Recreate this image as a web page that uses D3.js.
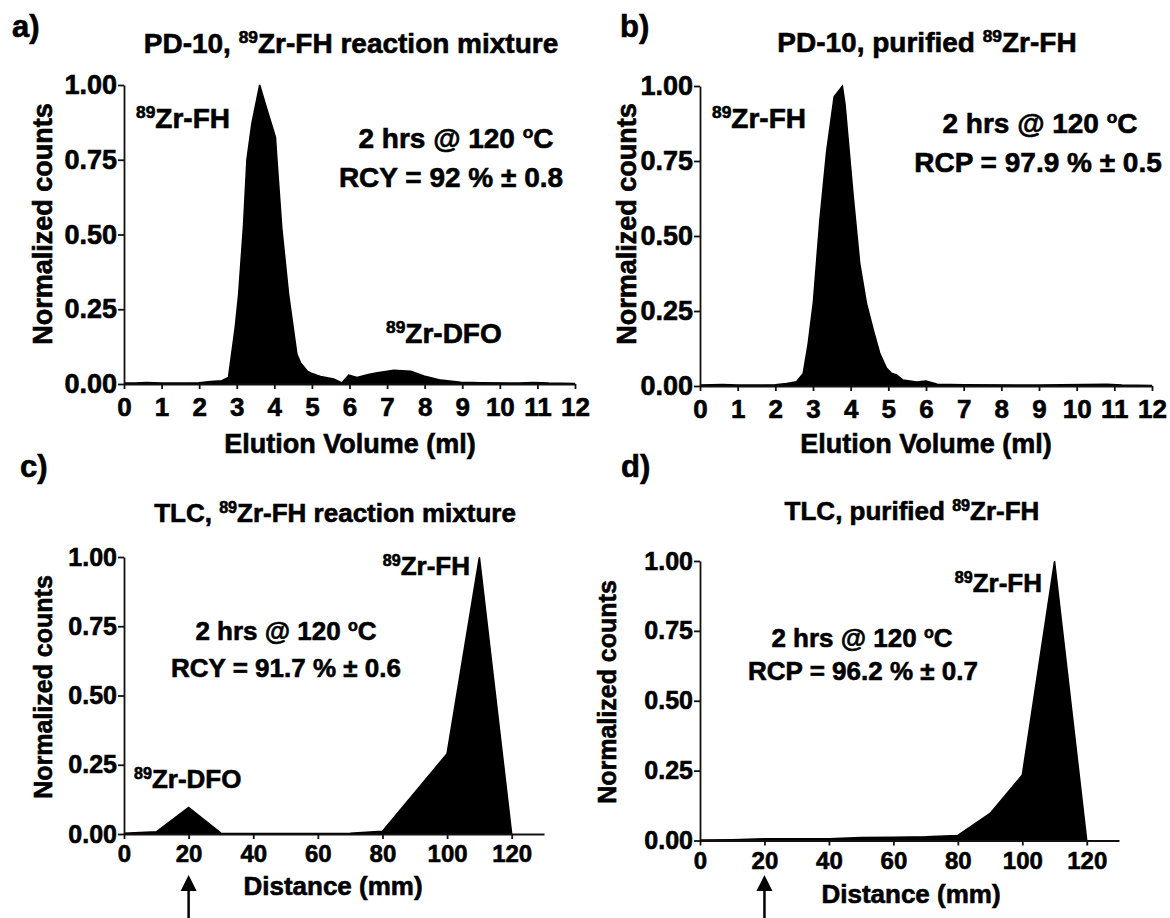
<!DOCTYPE html>
<html>
<head>
<meta charset="utf-8">
<script src="https://cdn.jsdelivr.net/npm/d3@7"></script>
<style>
  body { margin: 0; background: #fff; }
  svg { display: block; }
</style>
</head>
<body>
<script>
// elution profiles (PD-10), volume in ml -> normalized counts
const volA = [0,0.3,0.6,1.0,1.5,2.0,2.3,2.6,2.78,2.96,3.05,3.18,3.27,3.4,3.61,3.8,4.03,4.07,4.2,4.38,4.6,4.7,4.87,5.0,5.23,5.58,5.8,5.98,6.2,6.5,6.74,7.18,7.63,7.98,8.43,8.96,9.5,10.5,10.9,11.3,12]
const countsA = [0.003,0.003,0.005,0.003,0.003,0.004,0.008,0.011,0.022,0.19,0.30,0.53,0.75,0.87,1.0,0.92,0.826,0.75,0.52,0.30,0.10,0.07,0.044,0.035,0.025,0.017,0.004,0.03,0.022,0.032,0.038,0.046,0.043,0.027,0.013,0.006,0.004,0.003,0.005,0.003,0.002]

const volB = [0,0.6,1,2,2.3,2.56,2.74,2.87,3.01,3.18,3.36,3.56,3.78,3.85,4.07,4.24,4.42,4.6,4.77,4.95,5.08,5.22,5.39,5.75,6.0,6.3,7,9,10.8,11.2,12]
const countsB = [0.003,0.005,0.003,0.004,0.008,0.014,0.042,0.14,0.28,0.55,0.78,0.964,1.0,0.94,0.63,0.41,0.275,0.187,0.11,0.06,0.043,0.037,0.02,0.013,0.017,0.006,0.004,0.003,0.006,0.003,0.002]

// TLC scans, distance in mm
const distTLC = [0,10,20,30,40,50,60,70,80,90,100,110,120]
const countsC = [0.003,0.008,0.096,0.003,0.002,0.002,0.002,0.003,0.01,0.15,0.29,1.0,0]
const countsD = [0.002,0.003,0.006,0.006,0.006,0.011,0.012,0.013,0.018,0.097,0.234,1.0,0]

// ticks
const yTicks = [0,0.25,0.5,0.75,1]
const volTicks = [0,1,2,3,4,5,6,7,8,9,10,11,12]
const distTicks = [0,20,40,60,80,100,120]
const originMark = 20

const FONT = '"Liberation Sans", Arial, Helvetica, sans-serif'
const HEAVY = 0.6 // extra stroke to mimic the heavy print weight

const svg = d3.select('body').append('svg')
    .attr('width', 1170)
    .attr('height', 918)

svg.append('rect').attr('width', 1170).attr('height', 918).attr('fill', '#fff')

// text with {sup} parts
function richText(g, str, x, y, size, anchor, transform) {
    const t = g.append('text')
        .attr('font-family', FONT)
        .attr('font-weight', 'bold')
        .attr('font-size', size)
        .attr('fill', '#000')
        .attr('stroke', '#000')
        .attr('stroke-width', HEAVY)
        .attr('text-anchor', anchor || 'start')
    if (transform) t.attr('transform', transform)
    else t.attr('x', x).attr('y', y)
    const parts = str.split(/(\{[^}]*\})/).filter(s => s.length)
    let raised = false
    parts.forEach(p => {
        const sp = t.append('tspan')
        if (p[0] === '{') {
            sp.text(p.slice(1, -1)).attr('font-size', size * 0.62).attr('dy', -size * 0.36)
            raised = true
        } else {
            sp.text(p)
            if (raised) { sp.attr('dy', size * 0.36); raised = false }
        }
    })
    return t
}

const panels = [
    {
        xs: volA, ys: countsA, domain: [0, 12], ticks: volTicks,
        xr: [124, 575], yr: [384, 85], xPad: 8.5, fs: 27,
        label: ['a)', 12, 37], title: ['PD-10, {89}Zr-FH reaction mixture', 351, 53],
        xTitle: ['Elution Volume (ml)', 350, 453], yTitle: [52, 224],
        notes: [
            ['{89}Zr-FH', 136, 128, 'start', 28],
            ['2 hrs @ 120 {o}C', 456, 148, 'middle', 28],
            ['RCY = 92 % \u00b1 0.8', 451, 187, 'middle', 28],
            ['{89}Zr-DFO', 386, 343, 'start', 28]
        ]
    },
    {
        xs: volB, ys: countsB, domain: [0, 12], ticks: volTicks,
        xr: [700, 1152], yr: [386, 86], xPad: 8.5, fs: 27,
        label: ['b)', 620, 37], title: ['PD-10, purified {89}Zr-FH', 927, 52],
        xTitle: ['Elution Volume (ml)', 926, 453], yTitle: [636, 224],
        notes: [
            ['{89}Zr-FH', 712, 128, 'start', 28],
            ['2 hrs @ 120 {o}C', 1040, 133, 'middle', 28],
            ['RCP = 97.9 % \u00b1 0.5', 1038, 172, 'middle', 28]
        ]
    },
    {
        xs: distTLC, ys: countsC, domain: [0, 130], ticks: distTicks,
        xr: [124, 544], yr: [834, 557], xPad: 6, fs: 25, arrow: true,
        label: ['c)', 20, 477], title: ['TLC, {89}Zr-FH reaction mixture', 335, 522],
        xTitle: ['Distance (mm)', 333, 895], yTitle: [52, 687],
        notes: [
            ['{89}Zr-FH', 470, 575, 'end', 26],
            ['2 hrs @ 120 {o}C', 286, 640, 'middle', 26],
            ['RCY = 91.7 % \u00b1 0.6', 286, 677, 'middle', 26],
            ['{89}Zr-DFO', 134, 788, 'start', 26]
        ]
    },
    {
        xs: distTLC, ys: countsD, domain: [0, 130], ticks: distTicks,
        xr: [700, 1119], yr: [840.5, 561], xPad: 6.5, fs: 25, arrow: true,
        label: ['d)', 621, 477], title: ['TLC, purified {89}Zr-FH', 912, 520],
        xTitle: ['Distance (mm)', 911, 903], yTitle: [616, 692],
        notes: [
            ['{89}Zr-FH', 1042, 592, 'end', 26],
            ['2 hrs @ 120 {o}C', 862, 647, 'middle', 26],
            ['RCP = 96.2 % \u00b1 0.7', 863, 680, 'middle', 26]
        ]
    }
]

panels.forEach(p => {
    const g = svg.append('g')
    const x = d3.scaleLinear().domain(p.domain).range(p.xr)
    const y = d3.scaleLinear().domain([0, 1]).range(p.yr)
    const pts = p.xs.map((v, i) => [v, p.ys[i]])

    // filled profile
    g.append('path')
        .datum(pts)
        .attr('d', d3.area().x(d => x(d[0])).y0(y(0)).y1(d => y(d[1])))
        .attr('fill', '#000')
    g.append('path')
        .datum(pts)
        .attr('d', d3.line().x(d => x(d[0])).y(d => y(d[1])))
        .attr('fill', 'none')
        .attr('stroke', '#000')
        .attr('stroke-width', 1.5)

    // axes
    const xAxis = g.append('g')
        .attr('transform', `translate(0,${p.yr[0]})`)
        .call(d3.axisBottom(x).tickValues(p.ticks).tickSize(5).tickSizeOuter(0).tickPadding(p.xPad).tickFormat(d3.format('d')))
    const yAxis = g.append('g')
        .attr('transform', `translate(${p.xr[0]},0)`)
        .call(d3.axisLeft(y).tickValues(yTicks).tickSize(6).tickSizeOuter(0).tickPadding(1).tickFormat(d3.format('.2f')))

    ;[xAxis, yAxis].forEach(a => {
        a.attr('font-family', FONT).attr('font-weight', 'bold').attr('font-size', p.fs + (a === xAxis ? -1 : 0))
        a.select('.domain').attr('stroke', '#111').attr('stroke-width', 1.8)
        a.selectAll('.tick line').attr('stroke', '#111').attr('stroke-width', 1.8)
        a.selectAll('.tick text').attr('fill', '#000').attr('stroke', '#000').attr('stroke-width', HEAVY)
    })

    // titles
    richText(g, p.label[0], p.label[1], p.label[2], 31, 'start')
    richText(g, p.title[0], p.title[1], p.title[2], p.fs + 1, 'middle')
    richText(g, p.xTitle[0], p.xTitle[1], p.xTitle[2], p.fs + (p.arrow ? 1 : 0), 'middle')
    richText(g, 'Normalized counts', 0, 0, p.fs, 'middle',
        `translate(${p.yTitle[0]},${p.yTitle[1]}) rotate(-90)`)

    p.notes.forEach(n => richText(g, n[0], n[1], n[2], n[4], n[3]))

    // origin arrow below TLC axis
    if (p.arrow) {
        const ax = x(originMark)
        g.append('path')
            .attr('d', `M${ax},875 L${ax - 8},891 L${ax + 8},891 Z`)
            .attr('fill', '#000')
        g.append('line')
            .attr('x1', ax).attr('x2', ax)
            .attr('y1', 889).attr('y2', 918)
            .attr('stroke', '#000')
            .attr('stroke-width', 2.5)
    }
})
</script>
</body>
</html>
